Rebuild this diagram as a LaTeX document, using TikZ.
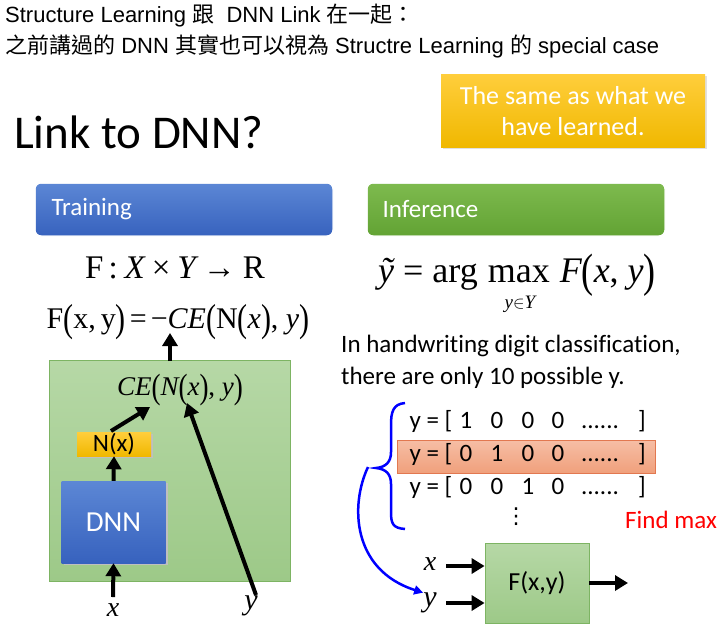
\documentclass[tikz,border=0pt]{standalone}
\usepackage{fontspec}
\setmainfont{Carlito}[Ligatures=NoCommon]
\newfontfamily\hdr{Liberation Sans}
\newfontfamily\cjk{Noto Sans CJK TC}
\newfontfamily\tms{Liberation Serif}
\newfontfamily\dvs{DejaVu Sans}
\usetikzlibrary{arrows.meta}
\newcommand\lp{\raisebox{-0.12em}{\scalebox{1}[1.3]{(}}}
\newcommand\rp{\raisebox{-0.12em}{\scalebox{1}[1.3]{)}}}
\definecolor{blueT}{RGB}{92,135,213}
\definecolor{blueB}{RGB}{55,98,190}
\definecolor{greenT}{RGB}{126,186,78}
\definecolor{greenB}{RGB}{98,163,52}
\definecolor{lgT}{RGB}{182,216,166}
\definecolor{lgB}{RGB}{157,201,136}
\definecolor{lgD}{RGB}{125,180,99}
\definecolor{yelT}{RGB}{255,206,60}
\definecolor{yelB}{RGB}{240,184,0}
\definecolor{salT}{RGB}{246,190,165}
\definecolor{salB}{RGB}{240,160,124}
\definecolor{salD}{RGB}{226,120,80}
\definecolor{pblue}{RGB}{0,0,255}
\begin{document}
\begin{tikzpicture}[x=1pt,y=-1pt,
  thickarrow/.style={line width=4pt,-{Triangle[length=13pt,width=15pt]}},
  bluecurve/.style={line width=2.5pt,draw=pblue},
  bar/.style={rounded corners=6pt,draw=white,line width=1pt,inner sep=0pt},
  slide/.style={font=\fontsize{25}{31}\selectfont},
  eq/.style={font=\tms\fontsize{30}{34}\selectfont,inner sep=0pt},
  row/.style={font=\fontsize{25}{30}\selectfont,anchor=base,inner sep=0pt}]
\useasboundingbox (0,0) rectangle (727,632);
\fill[white] (0,0) rectangle (727,632);

% header
\node[anchor=base west,inner sep=0pt,font=\hdr\fontsize{22}{24}\selectfont] (h1) at (5,22)
  {Structure Learning {\cjk 跟}\ \ DNN Link {\cjk 在一起：}};
\node[anchor=base west,inner sep=0pt,font=\hdr\fontsize{22}{24}\selectfont] (h2) at (5,53)
  {{\cjk 之前講過的} DNN {\cjk 其實也可以視為} Structre Learning {\cjk 的} special case};

% title
\node[anchor=base west,inner sep=0pt,font=\fontsize{47}{50}\selectfont] (title) at (14,148) {Link to DNN?};

% yellow note
\fill[black!12] (443,76) rectangle (707,149);
\shade[top color=yelT,bottom color=yelB] (441,74) rectangle (705,147);
\node[align=center,text=white,font=\fontsize{26}{31}\selectfont] (note) at (573,111)
  {The same as what we\\have learned.};

% bars
\shade[bar,top color=blueT,bottom color=blueB] (35,183) rectangle (333,236);
\draw[bar,white] (35,183) rectangle (333,236);
\node[anchor=west,text=white,slide] (train) at (48,209) {Training};
\shade[bar,top color=greenT,bottom color=greenB] (367,183) rectangle (665,236);
\draw[bar,white] (367,183) rectangle (665,236);
\node[anchor=west,text=white,slide] (infer) at (379,209) {Inference};

% training formulas
\node[eq,anchor=base,font=\tms\fontsize{33}{34}\selectfont] (f1) at (175,278)
  {F\hspace{5pt}:\hspace{7pt}{\itshape X}\hspace{7pt}×\hspace{7pt}{\itshape Y}\hspace{7pt}→\hspace{7pt}R};
\node[eq,anchor=base] (f2) at (178,328)
  {F\lp x,\,y\rp\hspace{4pt}=\hspace{4pt}−{\itshape CE}\lp N\lp{\itshape x}\rp, {\itshape y}\rp};

% green box
\fill[top color=lgT,bottom color=lgB,draw=lgD,line width=0.8pt] (49,360) rectangle (290,581);
\node[eq,anchor=base,font=\tms\fontsize{27}{30}\selectfont] (ce) at (180,395)
  {{\itshape CE}\lp{\itshape N}\lp{\itshape x}\rp, {\itshape y}\rp};
\fill[black!25] (79,434) rectangle (153,458);
\node[top color=yelT,bottom color=yelB,minimum width=74pt,minimum height=24pt,inner sep=0pt,font=\fontsize{25}{25}\selectfont] (nx) at (114,444) {N(x)};
\fill[black!25] (64,483) rectangle (168,565);
\node[top color=blueT,bottom color=blueB,minimum width=104pt,minimum height=82pt,inner sep=0pt,text=white,font=\fontsize{29}{29}\selectfont] (dnn) at (113.5,522) {DNN};
\node[font=\tms\itshape\fontsize{28}{28}\selectfont,inner sep=0pt] (xl) at (113,610) {x};
\node[font=\tms\itshape\fontsize{30}{30}\selectfont,inner sep=0pt] (yl) at (251,606) {y};
\coordinate (ceIn) at (150,407);
\coordinate (ceY) at (187,403);
\coordinate (f2In) at (170,333);
\coordinate (ceTop) at (170,361);
\coordinate (yStart) at (256,595);
\coordinate (xStart) at (113,597);
\coordinate (nxTop) at (111,431);
\draw[thickarrow] (xStart) -- (dnn.south);
\draw[thickarrow] (dnn.north) -- (nx.south);
\draw[thickarrow] (nxTop) -- (ceIn);
\draw[thickarrow] (yStart) -- (ceY);
\draw[thickarrow] (ceTop) -- (f2In);

% inference formula
\node[eq,anchor=base west,font=\tms\fontsize{36}{38}\selectfont] (f3) at (378,282)
  {{\itshape\~{y}}\hspace*{9pt}=\hspace*{9pt}arg\hspace*{10pt}max\hspace*{10pt}{\itshape F}\lp{\itshape x}, {\itshape y}\rp};
\node[font=\tms\itshape\fontsize{19}{19}\selectfont,inner sep=0pt] (sub) at (520,304) {y$\in$Y};

\node[anchor=base west,slide,inner sep=0pt,align=left] (t1) at (341,352) {In handwriting digit classification,};
\node[anchor=base west,slide,inner sep=0pt,align=left] (t2) at (341,384) {there are only 10 possible y.};

% rows
\fill[top color=salT,bottom color=salB,draw=salD,line width=0.8pt] (397,440) rectangle (655,473);
\foreach \r/\yy/\a/\b/\c/\d in {1/428/1/0/0/0, 2/461/0/1/0/0, 3/494/0/0/1/0}{
  \node[row] (r\r y) at (431,\yy) {y = [};
  \node[row] (r\r a) at (466,\yy) {\a};
  \node[row] (r\r b) at (497,\yy) {\b};
  \node[row] (r\r c) at (528,\yy) {\c};
  \node[row] (r\r d) at (558,\yy) {\d};
  \node[row] (r\r e) at (600,\yy) {......};
  \node[row] (r\r f) at (642,\yy) {]};
}
\node[inner sep=0pt,font=\dvs\fontsize{22}{22}\selectfont] (vd) at (516,517) {⋮};
\node[anchor=base west,inner sep=0pt,slide,text=red] (fm) at (625,528) {Find max};

% brace
\draw[bluecurve] (405,403) .. controls (393,404) and (391,412) .. (391,425)
  -- (391,452) .. controls (391,462) and (386,467) .. (376,468)
  .. controls (386,469) and (391,474) .. (391,484)
  -- (391,512) .. controls (391,524) and (393,528) .. (405,529);
\coordinate (bs) at (368,467);
\node[font=\tms\itshape\fontsize{28}{28}\selectfont,inner sep=0pt] (ix) at (430,564) {x};
\node[font=\tms\itshape\fontsize{30}{30}\selectfont,inner sep=0pt] (iy) at (430,603) {y};
\draw[bluecurve,-{Triangle[length=9pt,width=9pt]}] (bs) .. controls (350,505) and (352,570) .. (iy.north west);

% F box
\node[top color=lgT,bottom color=lgB,draw=lgD,line width=0.8pt,minimum width=104pt,minimum height=80pt,inner sep=0pt,font=\fontsize{26}{26}\selectfont] (fb) at (537,583) {F(x,y)};
\coordinate (xa) at (446,566);
\coordinate (ya) at (446,603);
\coordinate (oa) at (628,583);
\draw[thickarrow] (xa) -- (fb.west |- xa);
\draw[thickarrow] (ya) -- (fb.west |- ya);
\draw[thickarrow] (fb.east) -- (oa);
\end{tikzpicture}
\end{document}
